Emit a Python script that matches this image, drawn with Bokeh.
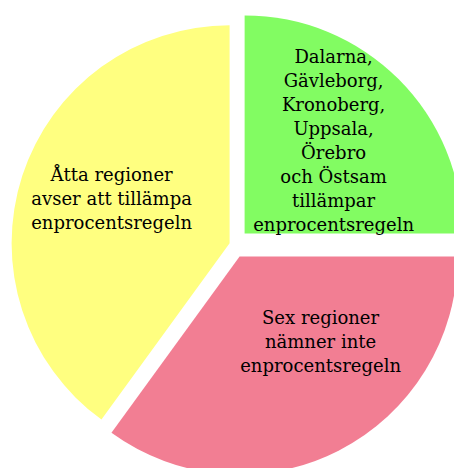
import math
from bokeh.plotting import figure
from bokeh.models import Range1d, ColumnDataSource
from bokeh.core.properties import value
from bokeh.embed import file_html
from bokeh.resources import INLINE

# ---- data ----
labels = [
    "Dalarna,\nGävleborg,\nKronoberg,\nUppsala,\nÖrebro\noch Östsam\ntillämpar\nenprocentsregeln",
    "Sex regioner\nnämner inte\nenprocentsregeln",
    "Åtta regioner\navser att tillämpa\nenprocentsregeln",
]
shares = [25, 35, 40]
colors = ["#82FC62", "#F27E93", "#FFFF80"]

# ---- layout / style ----
W, H = 454, 468
PAGE_H = 468
cx, cy = 233.0, PAGE_H - 244.0
R = 218.0
explode = [15.7, 13.4, 4.1]
label_offsets = [(89, 93), (81, -85), (-118, 45)]

xs, ys, starts, ends, lx, ly = [], [], [], [], [], []
a = 90.0
total = float(sum(shares))
for s, ex, (ox, oy) in zip(shares, explode, label_offsets):
    b = a - s / total * 360.0
    mid = math.radians((a + b) / 2)
    x0 = cx + ex * math.cos(mid)
    y0 = cy + ex * math.sin(mid)
    xs.append(x0)
    ys.append(y0)
    starts.append(math.radians(b))
    ends.append(math.radians(a))
    lx.append(x0 + ox)
    ly.append(y0 + oy)
    a = b

src = ColumnDataSource(dict(x=xs, y=ys, start=starts, end=ends, color=colors,
                            lx=lx, ly=ly, label=labels))

p = figure(width=W, height=H, x_range=Range1d(0, W),
           y_range=Range1d(PAGE_H - H, PAGE_H),
           toolbar_location=None, output_backend="svg", min_border=0)
p.axis.visible = False
p.grid.visible = False
p.outline_line_color = None
p.background_fill_color = "white"
p.border_fill_color = "white"

p.wedge(x="x", y="y", radius=R, start_angle="start", end_angle="end",
        fill_color="color", line_color=None, source=src)
p.text(x="lx", y="ly", text="label", source=src,
       text_font=value("DejaVu Serif"), text_font_size="18px",
       text_align="center", text_baseline="middle", text_line_height=1.14,
       text_color="black")

open("out.html", "w").write(file_html(p, INLINE))
